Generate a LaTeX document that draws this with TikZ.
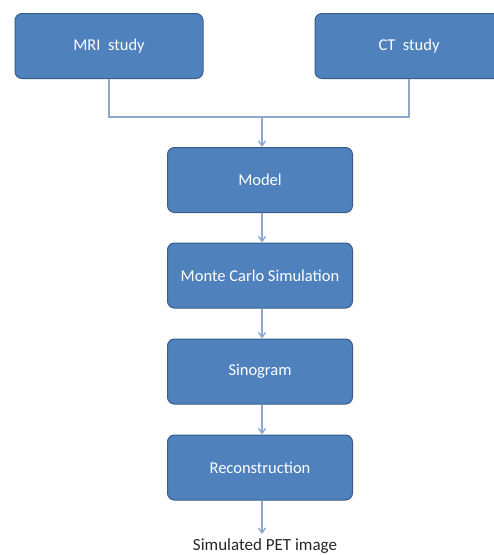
\documentclass[tikz,border=0pt]{standalone}
\usepackage{fontspec}
\setmainfont{Carlito}
\usetikzlibrary{arrows.meta}
\definecolor{boxfill}{HTML}{4F81BD}
\definecolor{boxline}{HTML}{385D8A}
\definecolor{conn}{HTML}{8EA8CC}
\begin{document}
\begin{tikzpicture}[x=1pt,y=-1pt,
  stagebox/.style={draw=boxline,line width=1pt,fill=boxfill,rounded corners=7pt,
     minimum width=185pt,minimum height=65pt,inner sep=0pt,text=white,
     font=\fontsize{16.5}{19}\selectfont},
  conline/.style={draw=conn,line width=1.3pt},
  conarrow/.style={conline,-{Straight Barb[length=5pt,width=7pt]}}]
\useasboundingbox (0,0) rectangle (494,555);
\clip (0,0) rectangle (494,555);
\node[stagebox,minimum width=188pt] (mri) at (109,46) {MRI\ \ study};
\node[stagebox,minimum width=188pt] (ct) at (409,46) {CT\ \ study};
\node[stagebox] (model) at (260,180) {Model};
\node[stagebox] (mc) at (260,275.5) {Monte Carlo Simulation};
\node[stagebox] (sino) at (260,371.5) {Sinogram};
\node[stagebox] (recon) at (260,467.5) {Reconstruction};
\node[font=\fontsize{17}{20}\selectfont,text=black!85,inner xsep=0pt,inner ysep=4pt,anchor=base] (pet) at (265,550) {Simulated PET image};
\coordinate (join) at (262,117);
\draw[conline] (mri.south) -- (mri.south |- join) -- (ct.south |- join) -- (ct.south);
\draw[conarrow] (join) -- (join |- model.north);
\draw[conarrow] (model.south -| join) -- (join |- mc.north);
\draw[conarrow] (mc.south -| join) -- (join |- sino.north);
\draw[conarrow] (sino.south -| join) -- (join |- recon.north);
\draw[conarrow] (recon.south -| join) -- (join |- pet.north);
\end{tikzpicture}
\end{document}
